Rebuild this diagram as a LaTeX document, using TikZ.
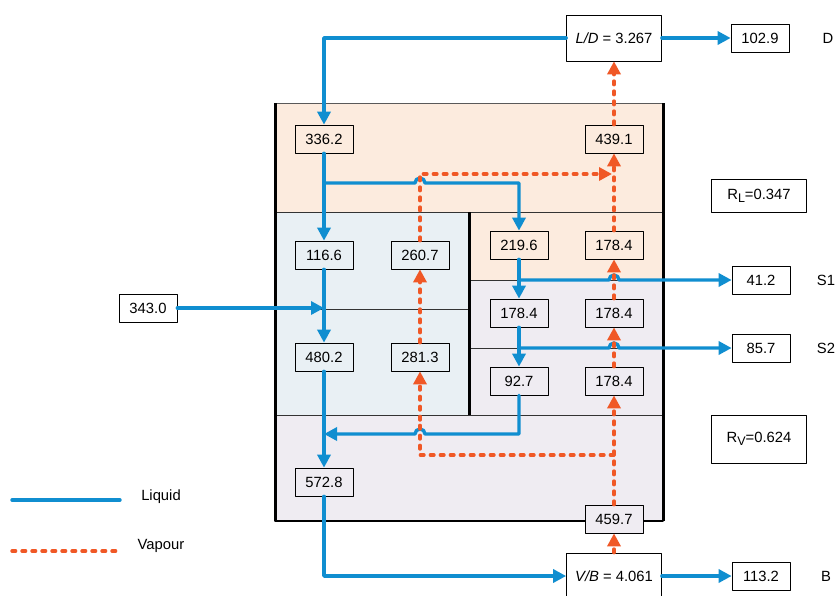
\documentclass[tikz,border=0pt]{standalone}
\usepackage{fontspec}
\setmainfont{Liberation Sans}
\usetikzlibrary{arrows.meta}
\definecolor{liqblue}{RGB}{16,142,208}
\definecolor{vapred}{RGB}{240,88,38}
\definecolor{topfill}{RGB}{252,235,222}
\definecolor{midfill}{RGB}{233,240,244}
\definecolor{lowfill}{RGB}{239,236,242}

\begin{document}
\begin{tikzpicture}[line cap=round,line join=round,x=1pt,y=-1pt,
  val/.style={draw,line width=0.7pt,minimum width=58pt,minimum height=28pt,inner sep=0pt,font=\fontsize{14.8}{16}\selectfont},
  ratio/.style={val,minimum width=95pt,minimum height=46pt},
  txt/.style={font=\fontsize{14.8}{16}\selectfont},
  liqline/.style={draw=liqblue,line width=3.4pt},
  vapline/.style={draw=vapred,line width=3.4pt,dash pattern=on 3.6pt off 6.4pt},
  liq/.style={liqline,-{Triangle[length=13pt,width=13pt]}},
  vap/.style={vapline,-{Triangle[length=13pt,width=13pt]}}]
  \useasboundingbox (0,0) rectangle (840,595);
  % column sections
  \fill[topfill] (275,103) rectangle (663,212);
  \fill[midfill] (275,212) rectangle (469,415);
  \fill[topfill] (469,212) rectangle (663,280);
  \fill[lowfill] (469,280) rectangle (663,415);
  \fill[lowfill] (275,415) rectangle (663,521);
  \draw[line width=0.7pt,gray!70!black] (275,103) -- (663,103);
  \draw[line width=1pt,black!80] (275,212) -- (663,212) (275,309) -- (469,309)
    (469,280) -- (663,280) (469,348) -- (663,348) (275,415) -- (663,415);
  \draw[line width=1.8pt] (275,521) -- (663,521);
  \draw[line width=3pt,line cap=butt] (275,103) -- (275,521) (663,103) -- (663,521) (469,212) -- (469,415);

  % flow values
  \node[ratio,fill=white] (ld) at (614,38) {\textit{L/D} = 3.267};
  \node[val,fill=white] (dist) at (760,38) {102.9};
  \node[txt] (dlab) at (828,38) {D};
  \node[val,fill=topfill] (l1) at (324,139) {336.2};
  \node[val,fill=topfill] (v1) at (614,139) {439.1};
  \node[val,fill=white,minimum width=95pt,minimum height=33pt] (rl) at (759,196) {R\raisebox{-0.4ex}{\fontsize{12.5}{12}\selectfont L}=0.347};
  \node[val,fill=midfill] (l2) at (324,255) {116.6};
  \node[val,fill=midfill] (v2) at (420,255) {260.7};
  \node[val,fill=topfill] (l3) at (519,245) {219.6};
  \node[val,fill=topfill] (v3) at (614,245) {178.4};
  \node[val,fill=white] (s1) at (761,280) {41.2};
  \node[txt] (s1lab) at (826,280) {S1};
  \node[val,fill=white] (feed) at (148,308) {343.0};
  \node[val,fill=lowfill] (l4) at (519,313) {178.4};
  \node[val,fill=lowfill] (v4) at (614,313) {178.4};
  \node[val,fill=white] (s2) at (761,348) {85.7};
  \node[txt] (s2lab) at (826,348) {S2};
  \node[val,fill=midfill] (l5) at (324,357) {480.2};
  \node[val,fill=midfill] (v5) at (420,357) {281.3};
  \node[val,fill=lowfill] (l6) at (519,381) {92.7};
  \node[val,fill=lowfill] (v6) at (614,381) {178.4};
  \node[val,fill=white,minimum width=95pt,minimum height=48pt] (rv) at (759,439) {R\raisebox{-0.4ex}{\fontsize{12.5}{12}\selectfont V}=0.624};
  \node[val,fill=lowfill] (l7) at (324,482) {572.8};
  \node[val,fill=lowfill] (v7) at (614,519) {459.7};
  \node[ratio,fill=white] (vb) at (614,576) {\textit{V/B} = 4.061};
  \node[val,fill=white] (btm) at (761,576) {113.2};
  \node[txt] (blab) at (826,576) {B};

  % junctions
  \coordinate (j1) at (324,183);
  \coordinate (j2) at (324,308);
  \coordinate (j3) at (519,280);
  \coordinate (j4) at (519,348);
  \coordinate (j5) at (324,434);
  \coordinate (j6) at (612,174);
  \coordinate (j7) at (614,455);

  % liquid
  \draw[liq] (ld.west) -| (l1.north);
  \draw[liq] (ld.east) -- (dist.west);
  \draw[liq] (l1.south) -- (l2.north);
  \draw[liq] (j1) -- (415,183) arc[start angle=180,end angle=0,radius=5pt] -- (519,183) -- (l3.north);
  \draw[liq] (l2.south) -- (l5.north);
  \draw[liq] (feed.east) -- (j2);
  \draw[liq] (l3.south) -- (l4.north);
  \draw[liq] (j3) -- (609,280) arc[start angle=180,end angle=0,radius=5pt] -- (s1.west);
  \draw[liq] (l4.south) -- (l6.north);
  \draw[liq] (j4) -- (609,348) arc[start angle=180,end angle=0,radius=5pt] -- (s2.west);
  \draw[liq] (l5.south) -- (l7.north);
  \draw[liq] (l6.south) -- (519,434) -- (425,434) arc[start angle=0,end angle=180,radius=5pt] -- (j5);
  \draw[liq] (l7.south) |- (vb.west);
  \draw[liq] (vb.east) -- (btm.west);

  % vapour
  \draw[vap] (vb.north) -- (v7.south);
  \draw[vap] (v7.north) -- (v6.south);
  \draw[vapline] (j7) -- (420,455) -- (420,420);
  \draw[vap] (420,420) -- (v5.south);
  \draw[vap] (v5.north) -- (v2.south);
  \draw[vap] (v2.north) -- (420,174) -- (j6);
  \draw[vap] (v6.north) -- (v4.south);
  \draw[vap] (v4.north) -- (v3.south);
  \draw[vap] (v3.north) -- (v1.south);
  \draw[vap] (v1.north) -- (ld.south);

  % legend
  \coordinate (lega) at (12,500);
  \coordinate (legb) at (120,500);
  \coordinate (legc) at (12,551);
  \coordinate (legd) at (120,551);
  \draw[liqline] (lega) -- (legb);
  \draw[vapline] (legc) -- (legd);
  \node[txt] (liqlab) at (161,497) {Liquid};
  \node[txt] (vaplab) at (161,546) {Vapour};
\end{tikzpicture}
\end{document}
